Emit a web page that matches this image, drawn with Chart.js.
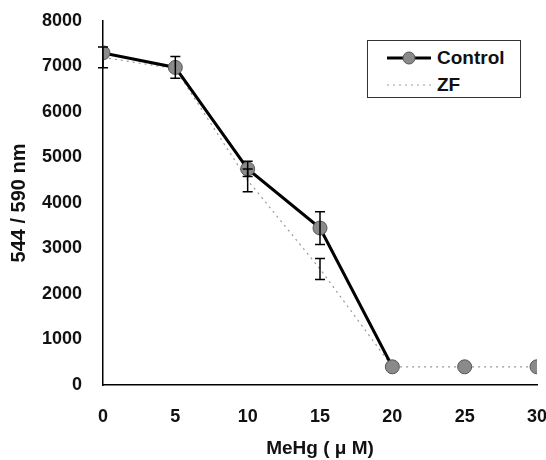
<!DOCTYPE html>
<html>
<head>
<meta charset="utf-8">
<script src="https://cdn.jsdelivr.net/npm/chart.js@4.4.1/dist/chart.umd.min.js"></script>
<style>
  html, body { margin: 0; padding: 0; background: #fff; overflow: hidden; width: 546px; height: 460px; }
  #wrap { position: relative; width: 570px; height: 460px; }
  #legend {
    position: absolute; left: 367px; top: 40px; width: 152px; height: 56px;
    border: 1px solid #333; background: #fff;
    font-family: "Liberation Sans", Arial, sans-serif; font-weight: bold; font-size: 19px; color: #111;
  }
  .row { position: absolute; left: 0; height: 22px; display: flex; align-items: center; }
  .row svg { margin-left: 19px; margin-right: 6px; }
</style>
</head>
<body>
<div id="wrap">
  <canvas id="c" width="570" height="460"></canvas>
  <div id="legend">
    <div class="row" style="top:6px">
      <svg width="44" height="16"><line x1="0" y1="8" x2="44" y2="8" stroke="#000" stroke-width="3"/><circle cx="22" cy="8" r="6" fill="#8a8a8a" stroke="#555" stroke-width="1"/></svg>Control
    </div>
    <div class="row" style="top:33px">
      <svg width="44" height="16"><line x1="0" y1="8" x2="44" y2="8" stroke="#999" stroke-width="1.2" stroke-dasharray="2 4"/></svg>ZF
    </div>
  </div>
</div>
<script>
// ── DATA ─────────────────────────────────────────────────────────────────────
const doses      = [0, 5, 10, 15, 20, 25, 30];
const control    = [7300, 6980, 4750, 3450, 400, 400, 400];
const controlErr = [0, 240, 170, 360, 0, 0, 0];
const zf         = [7200, 6950, 4500, 2550, 400, 400, 400];
const zfErr      = [230, 0, 250, 230, 0, 0, 0];
const yTicks     = [0, 1000, 2000, 3000, 4000, 5000, 6000, 7000, 8000];

const FONT = '"Liberation Sans", Arial, sans-serif';

// ── ERROR BARS (drawn through the chart's own scales) ────────────────────────
const errorBars = {
  id: 'errorBars',
  afterDatasetsDraw(chart) {
    const { ctx, scales: { x, y } } = chart;
    ctx.save();
    ctx.strokeStyle = '#000';
    ctx.lineWidth = 1.5;
    chart.data.datasets.forEach(ds => {
      if (!ds.errors) return;
      ds.data.forEach((p, i) => {
        const e = ds.errors[i];
        if (!e) return;
        const px = x.getPixelForValue(p.x);
        const top = y.getPixelForValue(p.y + e);
        const bot = y.getPixelForValue(p.y - e);
        ctx.beginPath();
        ctx.moveTo(px, top); ctx.lineTo(px, bot);
        ctx.moveTo(px - 5, top); ctx.lineTo(px + 5, top);
        ctx.moveTo(px - 5, bot); ctx.lineTo(px + 5, bot);
        ctx.stroke();
      });
    });
    ctx.restore();
  }
};

const pts = arr => doses.map((d, i) => ({ x: d, y: arr[i] }));

new Chart(document.getElementById('c'), {
  type: 'line',
  data: {
    datasets: [
      {
        label: 'Control',
        data: pts(control),
        errors: controlErr,
        borderColor: '#000',
        borderWidth: 3,
        pointRadius: 7,
        pointBackgroundColor: '#8a8a8a',
        pointBorderColor: '#555',
        pointBorderWidth: 1,
        segment: { borderColor: c => c.p0DataIndex >= 4 ? 'rgba(0,0,0,0)' : undefined }
      },
      {
        label: 'ZF',
        data: pts(zf),
        errors: zfErr,
        borderColor: '#999',
        borderWidth: 1.2,
        borderDash: [2, 4],
        pointRadius: 0
      }
    ]
  },
  options: {
    responsive: false,
    animation: false,
    layout: { padding: { left: 0, top: 21, right: 33, bottom: 0 } },
    plugins: { legend: { display: false }, tooltip: { enabled: false } },
    scales: {
      x: {
        type: 'linear', min: 0, max: 30,
        grid: { display: false, drawTicks: false },
        border: { color: '#000', width: 1.5 },
        ticks: { stepSize: 5, padding: 21, color: '#111', font: { family: FONT, size: 18, weight: 'bold' } },
        title: { display: true, text: 'MeHg ( μ M)', color: '#111', padding: { top: 13, bottom: 0 },
                 font: { family: FONT, size: 19, weight: 'bold' } },
        afterFit: s => { s.height = 75; s.paddingLeft = 0; s.paddingRight = 0; }
      },
      y: {
        min: 0, max: 8000,
        grid: { display: false, drawTicks: false },
        border: { color: '#000', width: 1.5 },
        afterBuildTicks: s => { s.ticks = yTicks.map(v => ({ value: v })); },
        ticks: { padding: 21, color: '#111', callback: v => String(v),
                 font: { family: FONT, size: 18, weight: 'bold' } },
        title: { display: true, text: '544 / 590 nm', color: '#111', padding: { top: 7, bottom: 0 },
                 font: { family: FONT, size: 20, weight: 'bold' } },
        afterFit: s => { s.width = 103; s.paddingTop = 0; s.paddingBottom = 0; }
      }
    }
  },
  plugins: [errorBars]
});
</script>
</body>
</html>
